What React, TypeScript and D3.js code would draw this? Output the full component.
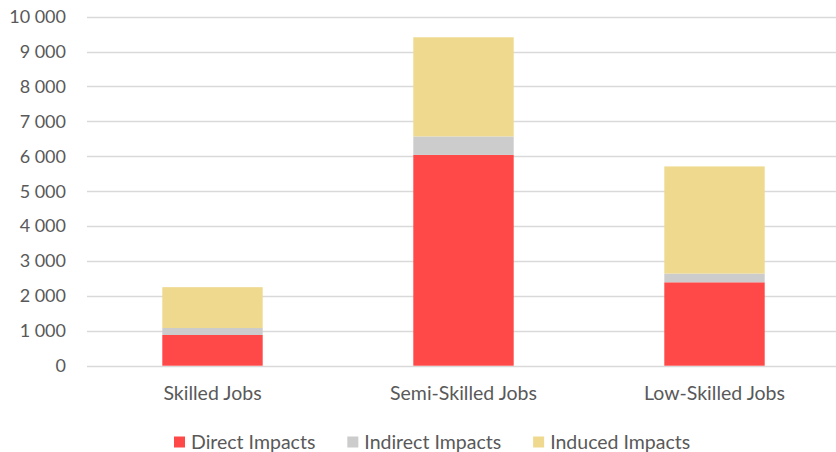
import React, { useEffect, useRef } from "react";
import * as d3 from "d3";

const categories = ["Skilled Jobs", "Semi-Skilled Jobs", "Low-Skilled Jobs"];
const seriesNames = ["Direct Impacts", "Indirect Impacts", "Induced Impacts"];
const direct = [880, 6040, 2390];
const indirect = [200, 530, 250];
const induced = [1170, 2840, 3070];
const yTicks = [0, 1000, 2000, 3000, 4000, 5000, 6000, 7000, 8000, 9000, 10000];
const colors = ["#FF4848", "#CCCCCC", "#EFD98E"];

const W = 836;
const H = 452;
const FONT = "Lato, 'Open Sans', sans-serif";

export default function App() {
  const ref = useRef<SVGSVGElement | null>(null);

  useEffect(() => {
    const svg = d3.select(ref.current);
    svg.selectAll("*").remove();

    const x = d3
      .scaleBand<string>()
      .domain(categories)
      .range([87, 840])
      .paddingInner(0.6)
      .paddingOuter(0.3);
    const y = d3.scaleLinear().domain([0, 10000]).range([365.7, 16.7]);

    const fmt = (v: number) => d3.format(",")(v).replace(/,/g, " ");

    // gridlines
    svg
      .append("g")
      .selectAll("line")
      .data(yTicks)
      .join("line")
      .attr("x1", 87)
      .attr("x2", 836)
      .attr("y1", (d) => Math.round(y(d)) + 0.5)
      .attr("y2", (d) => Math.round(y(d)) + 0.5)
      .attr("stroke", "#D9D9D9")
      .attr("stroke-width", 1.3);

    // tick labels
    svg
      .append("g")
      .selectAll("text")
      .data(yTicks)
      .join("text")
      .attr("x", 66)
      .attr("y", (d) => y(d))
      .attr("dy", "0.35em")
      .attr("text-anchor", "end")
      .attr("font-family", FONT)
      .attr("font-size", 18)
      .attr("fill", "#595959")
      .text((d) => fmt(d));

    // stack
    const rows = categories.map((c, i) => ({
      cat: c,
      [seriesNames[0]]: direct[i],
      [seriesNames[1]]: indirect[i],
      [seriesNames[2]]: induced[i],
    }));
    const stack = d3.stack<any>().keys(seriesNames)(rows);

    svg
      .append("g")
      .selectAll("g")
      .data(stack)
      .join("g")
      .attr("fill", (_d, i) => colors[i])
      .selectAll("rect")
      .data((d) => d)
      .join("rect")
      .attr("x", (d: any) => x(d.data.cat) as number)
      .attr("width", x.bandwidth())
      .attr("y", (d) => y(d[1]))
      .attr("height", (d) => y(d[0]) - y(d[1]));

    // category labels
    svg
      .append("g")
      .selectAll("text")
      .data(categories)
      .join("text")
      .attr("x", (d) => (x(d) as number) + x.bandwidth() / 2)
      .attr("y", 393)
      .attr("dy", "0.35em")
      .attr("text-anchor", "middle")
      .attr("font-family", FONT)
      .attr("font-size", 19.5)
      .attr("fill", "#595959")
      .text((d) => d);

    // legend
    const lg = svg.append("g");
    let cx = 174;
    seriesNames.forEach((name, i) => {
      lg.append("rect")
        .attr("x", cx)
        .attr("y", 436.5)
        .attr("width", 11)
        .attr("height", 11)
        .attr("fill", colors[i]);
      const t = lg
        .append("text")
        .attr("x", cx + 17)
        .attr("y", 442)
        .attr("dy", "0.35em")
        .attr("font-family", FONT)
        .attr("font-size", 19.5)
        .attr("fill", "#595959")
        .text(name);
      const w = (t.node() as SVGTextElement).getComputedTextLength();
      cx = cx + 17 + w + 32;
    });
  }, []);

  return (
    <svg
      ref={ref}
      width={W}
      height={H}
      style={{ position: "absolute", left: 0, top: 0, background: "#fff" }}
    />
  );
}
